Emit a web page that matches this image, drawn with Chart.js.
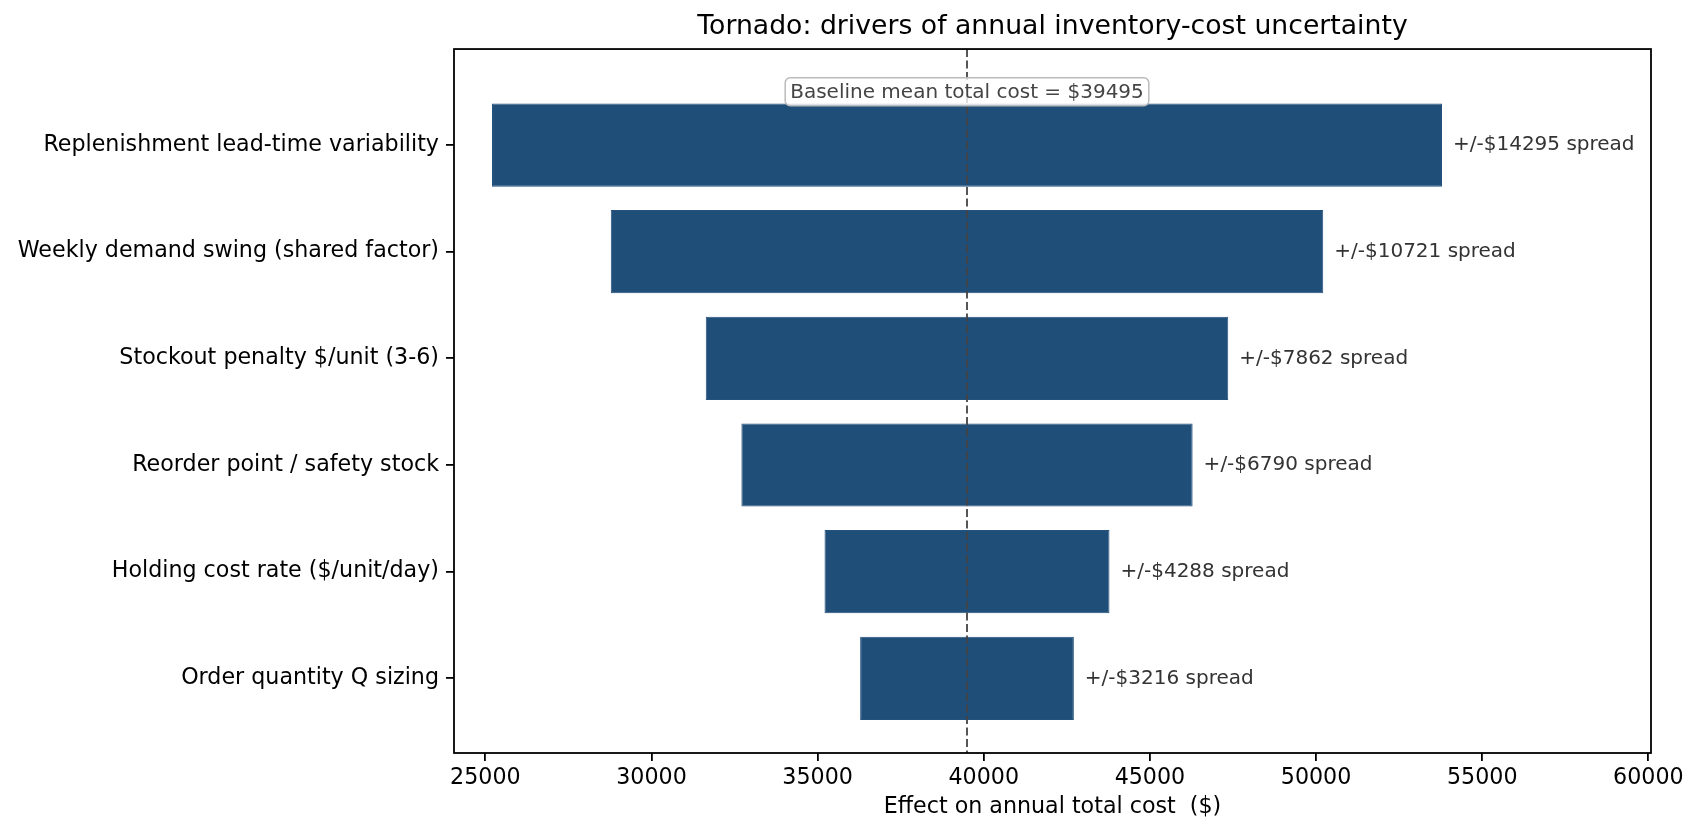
<!DOCTYPE html>
<html>
<head>
<meta charset="utf-8">
<title>Tornado chart</title>
<script src="https://cdn.jsdelivr.net/npm/chart.js@4.4.1/dist/chart.umd.min.js"></script>
<style>
  html, body { margin: 0; padding: 0; background: #fff; }
  #wrap { width: 1698px; height: 834px; position: relative; }
</style>
</head>
<body>
<div id="wrap"><canvas id="tornadoChart"></canvas></div>
<script>
// values
const drivers = [
    'Replenishment lead-time variability',
    'Weekly demand swing (shared factor)',
    'Stockout penalty $/unit (3-6)',
    'Reorder point / safety stock',
    'Holding cost rate ($/unit/day)',
    'Order quantity Q sizing'
];
const spreads = [14295, 10721, 7862, 6790, 4288, 3216];
const baselineCost = 39495;
const xTickValues = [25000, 30000, 35000, 40000, 45000, 50000, 55000, 60000];

// each bar runs baseline - spread .. baseline + spread
const lowEnds = spreads.map(s => baselineCost - s);
const highEnds = spreads.map(s => baselineCost + s);

const FONT = '"DejaVu Sans", "Liberation Sans", sans-serif';

const overlayPlugin = {
    id: 'tornadoOverlay',
    afterDatasetsDraw(chart) {
        const { ctx, chartArea: a, scales: { x, y } } = chart;
        const bx = x.getPixelForValue(baselineCost);
        ctx.save();

        // dashed baseline
        ctx.strokeStyle = '#444';
        ctx.lineWidth = 1.8;
        ctx.setLineDash([8, 3.5]);
        ctx.beginPath();
        ctx.moveTo(bx, a.top);
        ctx.lineTo(bx, a.bottom);
        ctx.stroke();
        ctx.setLineDash([]);

        // spread labels right of each bar
        ctx.font = '20px ' + FONT;
        ctx.fillStyle = '#333';
        ctx.textAlign = 'left';
        ctx.textBaseline = 'middle';
        spreads.forEach((s, i) => {
            ctx.fillText('+/-$' + s + ' spread', x.getPixelForValue(highEnds[i]) + 11, y.getPixelForValue(i));
        });

        // baseline annotation box
        const label = 'Baseline mean total cost = $' + baselineCost;
        const ty = y.getPixelForValue(-0.5);
        const w = ctx.measureText(label).width;
        ctx.beginPath();
        ctx.roundRect(bx - w / 2 - 5, ty - 14, w + 10, 28, 5);
        ctx.fillStyle = 'rgba(255,255,255,0.8)';
        ctx.fill();
        ctx.strokeStyle = '#bbb';
        ctx.lineWidth = 1.5;
        ctx.stroke();
        ctx.fillStyle = '#444';
        ctx.textAlign = 'center';
        ctx.fillText(label, bx, ty + 1);

        ctx.restore();
    },
    afterDraw(chart) {
        const { ctx, chartArea: a } = chart;
        ctx.save();
        ctx.strokeStyle = '#000';
        ctx.lineWidth = 1.8;
        ctx.strokeRect(a.left, a.top, a.right - a.left, a.bottom - a.top);
        ctx.restore();
    }
};

function initChart() {
    const ctx = document.getElementById('tornadoChart').getContext('2d');
    new Chart(ctx, {
        type: 'bar',
        data: {
            datasets: [{
                data: drivers.map((d, i) => ({ x: [lowEnds[i], highEnds[i]], y: i })),
                backgroundColor: '#1f4e79',
                borderColor: '#24527e',
                borderWidth: 1,
                borderSkipped: false,
                categoryPercentage: 1,
                barPercentage: 0.78
            }]
        },
        options: {
            indexAxis: 'y',
            responsive: true,
            maintainAspectRatio: false,
            animation: false,
            layout: { padding: { left: 0, right: 47, top: 0, bottom: 0 } },
            plugins: {
                legend: { display: false },
                tooltip: { enabled: false },
                title: {
                    display: true,
                    fullSize: false,
                    text: 'Tornado: drivers of annual inventory-cost uncertainty',
                    color: '#000',
                    font: { family: FONT, size: 26.7, weight: 'normal' },
                    padding: { top: 11, bottom: 6 }
                }
            },
            scales: {
                x: {
                    type: 'linear',
                    min: 24056,
                    max: 60080,
                    afterBuildTicks: scale => { scale.ticks = xTickValues.map(v => ({ value: v })); },
                    afterFit: scale => { scale.height = 81; },
                    ticks: {
                        color: '#000',
                        font: { family: FONT, size: 22.2 },
                        padding: 4,
                        maxRotation: 0,
                        autoSkip: false,
                        callback: v => String(v)
                    },
                    grid: { display: true, drawOnChartArea: false, drawTicks: true, tickLength: 8, color: '#000', lineWidth: 1.8 },
                    border: { display: false },
                    title: {
                        display: true,
                        text: 'Effect on annual total cost  ($)',
                        color: '#000',
                        font: { family: FONT, size: 22.2 },
                        padding: { top: 0, bottom: 13 }
                    }
                },
                y: {
                    type: 'linear',
                    reverse: true,
                    offset: false,
                    min: -0.9,
                    max: 5.7,
                    afterBuildTicks: scale => { scale.ticks = drivers.map((d, i) => ({ value: i })); },
                    afterFit: scale => { scale.width = 454; },
                    ticks: {
                        color: '#000',
                        font: { family: FONT, size: 22.2 },
                        padding: 7,
                        autoSkip: false,
                        callback: v => drivers[v]
                    },
                    grid: { display: true, offset: false, drawOnChartArea: false, drawTicks: true, tickLength: 8, color: '#000', lineWidth: 1.8 },
                    border: { display: false }
                }
            }
        },
        plugins: [overlayPlugin]
    });
}

document.addEventListener('DOMContentLoaded', initChart);
</script>
</body>
</html>
